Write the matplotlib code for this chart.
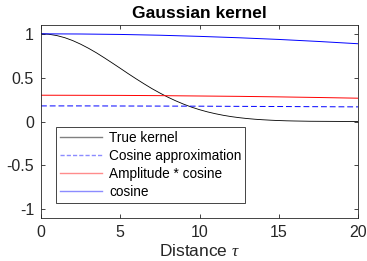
import matplotlib
matplotlib.use("Agg")
import matplotlib.pyplot as plt
from matplotlib.lines import Line2D

plt.rcParams['font.family'] = ['Liberation Sans', 'DejaVu Sans']
plt.rcParams['mathtext.fontset'] = 'custom'
plt.rcParams['mathtext.it'] = 'Liberation Serif:italic'

tau = [0, 0.5, 1, 1.5, 2, 2.5, 3, 3.5, 4, 4.5, 5, 5.5, 6, 6.5, 7, 7.5, 8, 8.5, 9, 9.5,
       10, 10.5, 11, 11.5, 12, 12.5, 13, 13.5, 14, 14.5, 15, 15.5, 16, 17, 18, 19, 20]
true_kernel = [1.0, 0.995, 0.980, 0.956, 0.923, 0.882, 0.835, 0.783, 0.726, 0.667,
               0.607, 0.546, 0.487, 0.430, 0.375, 0.325, 0.278, 0.236, 0.198, 0.164,
               0.135, 0.110, 0.089, 0.071, 0.056, 0.044, 0.034, 0.026, 0.020, 0.015,
               0.011, 0.008, 0.006, 0.003, 0.002, 0.001, 0.000]

tau_c = [0, 2.5, 5, 7.5, 10, 12.5, 15, 17.5, 20]
cosine = [1.0, 0.998, 0.993, 0.984, 0.971, 0.955, 0.936, 0.913, 0.887]
amp_cosine = [0.300, 0.299, 0.298, 0.295, 0.291, 0.287, 0.281, 0.274, 0.266]
cos_approx = [0.178, 0.178, 0.177, 0.176, 0.175, 0.173, 0.171, 0.169, 0.167]

labels = ['True kernel', 'Cosine approximation', 'Amplitude * cosine', 'cosine']
xticks = [0, 5, 10, 15, 20]
yticks = [-1, -0.5, 0, 0.5, 1]
yticklabels = ['-1', '-0.5', '0', '0.5', '1']

fig = plt.figure(figsize=(3.67, 2.61), dpi=100)
ax = fig.add_axes([0.1117, 0.1648, 0.8638, 0.7392])

ax.plot(tau, true_kernel, color='black', lw=0.6)
ax.plot(tau_c, cos_approx, color='#0000ff', lw=0.7, ls=(0, (6, 3)))
ax.plot(tau_c, amp_cosine, color='#ff0000', lw=0.7)
ax.plot(tau_c, cosine, color='#0000ff', lw=0.7)

ax.set_xlim(0, 20)
ax.set_ylim(-1.1, 1.1)
ax.set_xticks(xticks)
ax.set_yticks(yticks)
ax.set_yticklabels(yticklabels)
ax.tick_params(direction='in', length=3, width=0.6, top=True, right=True,
               labelsize=11.5, colors='#262626', pad=5)
for s in ax.spines.values():
    s.set_color('#262626')
    s.set_linewidth(0.6)

ax.set_title('Gaussian kernel', fontsize=12.5, fontweight='bold', pad=5)
ax.set_xlabel(r'Distance $\tau$', fontsize=12.5, color='#262626', labelpad=2.5)

handles = [
    Line2D([], [], color='#808080', lw=1.0),
    Line2D([], [], color='#8c8cff', lw=1.0, ls=(0, (3, 1.5))),
    Line2D([], [], color='#ff8c8c', lw=1.0),
    Line2D([], [], color='#8c8cff', lw=1.0),
]
leg = ax.legend(handles, labels, loc='lower left', bbox_to_anchor=(0.047, 0.078),
                fontsize=9.8, frameon=True, fancybox=False, framealpha=1,
                edgecolor='#262626', handlelength=3.1, handletextpad=0.5,
                borderpad=0.3, labelspacing=0.3, borderaxespad=0)
leg.get_frame().set_linewidth(0.6)

fig.savefig('out.png', dpi=100)
